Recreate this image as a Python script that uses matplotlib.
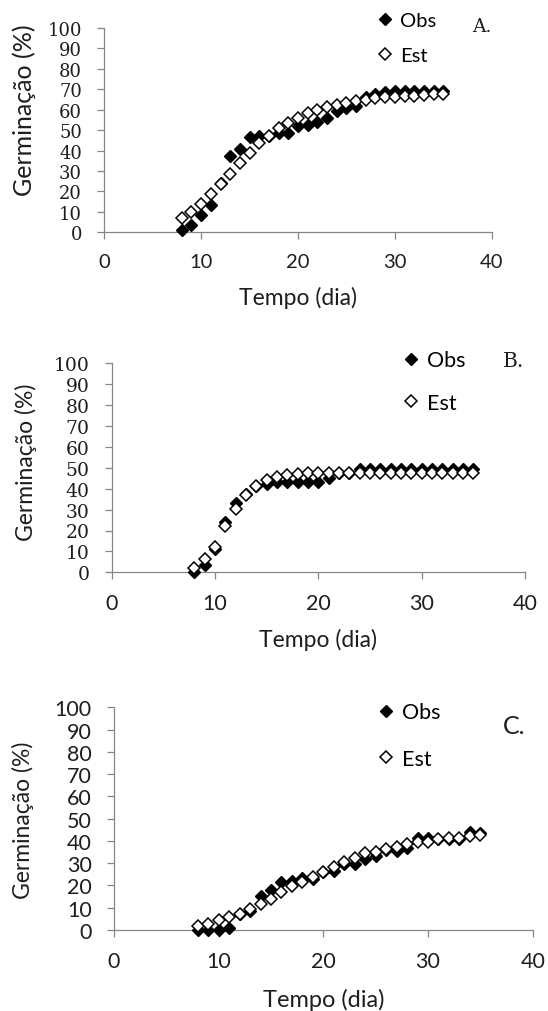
import matplotlib
matplotlib.use('Agg')
import matplotlib.pyplot as plt

# dias de avaliação
days = list(range(8, 36))

# A.
obs_a = [1.2, 3.6, 8.5, 13.6, 24, 37.4, 41, 46.6, 47, 47.2, 48.5, 48.7, 52, 52.5,
         53.8, 56, 59.5, 60.7, 62, 66.3, 67.5, 68.8, 69, 69, 69, 69, 69, 69]
est_a = [7, 9.8, 14, 18.7, 23.5, 28.7, 34.1, 39, 43.5, 47, 51, 53.5, 56, 58.2,
         60, 61.5, 62.3, 63.3, 64.3, 65, 65.5, 66, 66.3, 66.6, 66.9, 67.2, 67.5, 67.8]

# B.
obs_b = [0, 3.5, 11, 24, 33, 37.5, 41.5, 42.3, 43.3, 43.3, 43.3, 43.3, 43.3, 45,
         47.5, 47.5, 49.3, 49.3, 49.3, 49.3, 49.3, 49.3, 49.3, 49.3, 49.3, 49.3, 49.3, 49.3]
est_b = [2.2, 6.5, 12, 22, 30.3, 37, 41.3, 44.3, 45.5, 46.5, 47, 47.3, 47.4, 47.5,
         47.6, 47.6, 47.6, 47.6, 47.6, 47.6, 47.6, 47.6, 47.6, 47.6, 47.6, 47.6, 47.6, 47.6]

# C.
obs_c = [0, 0, 0, 0.8, 7, 8.5, 15.3, 18, 21.6, 22, 23.5, 23, 26, 26.5,
         29.8, 29.5, 32, 33.3, 36, 35.5, 37, 41.5, 41.5, 41, 41, 41, 44, 43.5]
est_c = [1.8, 2.8, 4.5, 6, 7.3, 9.3, 11.5, 14, 17, 19.8, 21.7, 24, 26, 28.5,
         30.6, 32.5, 34.5, 35, 36.3, 37.3, 38.5, 39.3, 39.7, 40.8, 41.2, 41.5, 42.3, 42.7]

x_ticks = [0, 10, 20, 30, 40]
y_ticks = list(range(0, 101, 10))
series_names = ['Obs', 'Est']
panel_tags = ['A.', 'B.', 'C.']
x_title = 'Tempo (dia)'
y_title = 'Germinação (%)'

W, H = 548, 1012
SANS = ['Lato', 'DejaVu Sans']
SERIF = ['DejaVu Serif']
GRAY = '#868686'
INK = '#1e1e1e'


def fx(x):
    return x / W


def fy(y):
    return 1 - y / H


# layout em pixels de cada painel
PANELS = [
    dict(obs=obs_a, est=est_a, box=(104.3, 29, 491.7, 233.3),
         yfont=SERIF, yfs=13, xfs=14.5, ylab=(24, 110), ylab_fs=18,
         xlab_y=298, xlab_fs=16.5, leg=(385, 21.7, 56.7), leg_fs=14.5,
         tag=(482, 27), tag_font=SERIF, tag_fs=13.5),
    dict(obs=obs_b, est=est_b, box=(111.7, 364.3, 525, 573.3),
         yfont=SERIF, yfs=13.5, xfs=15.5, ylab=(26, 462), ylab_fs=16.5,
         xlab_y=640, xlab_fs=16.5, leg=(411, 362, 403), leg_fs=15.5,
         tag=(514, 362), tag_font=SERIF, tag_fs=14.5),
    dict(obs=obs_c, est=est_c, box=(114, 708.3, 532.7, 931),
         yfont=SANS, yfs=15.5, xfs=15.5, ylab=(23, 820), ylab_fs=16.5,
         xlab_y=1000, xlab_fs=17, leg=(386, 714, 759), leg_fs=15.5,
         tag=(514, 727), tag_font=SANS, tag_fs=18),
]


def draw_panel(fig, p, tag):
    x0, y0, x1, y1 = p['box']
    ax = fig.add_axes([fx(x0), fy(y1), fx(x1) - fx(x0), (y1 - y0) / H])
    ax.plot(days, p['obs'], linestyle='none', marker='D', ms=6.2,
            mfc='black', mec='black', mew=1.0, clip_on=False, zorder=3,
            label=series_names[0])
    ax.plot(days, p['est'], linestyle='none', marker='D', ms=6.2,
            mfc='white', mec='black', mew=1.1, clip_on=False, zorder=4,
            label=series_names[1])
    ax.set_xlim(0, 40)
    ax.set_ylim(0, 100)
    ax.set_xticks(x_ticks)
    ax.set_yticks(y_ticks)
    for s in ['top', 'right']:
        ax.spines[s].set_visible(False)
    for s in ['left', 'bottom']:
        ax.spines[s].set_color(GRAY)
        ax.spines[s].set_linewidth(0.9)
    ax.tick_params(axis='both', direction='out', length=5, width=0.9,
                   color=GRAY, labelcolor=INK)
    ax.tick_params(axis='y', pad=11)
    ax.tick_params(axis='x', pad=10)
    for lb in ax.get_yticklabels():
        lb.set_fontfamily(p['yfont'])
        lb.set_fontsize(p['yfs'])
    for lb in ax.get_xticklabels():
        lb.set_fontfamily(SANS)
        lb.set_fontsize(p['xfs'])

    # títulos dos eixos
    fig.text(fx(p['ylab'][0]), fy(p['ylab'][1]), y_title, rotation=90,
             ha='center', va='center', fontsize=p['ylab_fs'],
             family=SANS, color=INK)
    fig.text(fx((x0 + x1) / 2), fy(p['xlab_y']), x_title,
             ha='center', va='center', fontsize=p['xlab_fs'],
             family=SANS, color=INK)

    # legenda
    lx, ly1, ly2 = p['leg']
    fs_px = p['leg_fs'] * 100 / 72
    spacing = (ly2 - ly1 - 0.85 * fs_px) / fs_px
    ax.legend(loc='center left', bbox_to_anchor=(fx(lx - 0.5 * fs_px), fy((ly1 + ly2) / 2)),
              bbox_transform=fig.transFigure, frameon=False, borderpad=0,
              borderaxespad=0, handlelength=1.0, handletextpad=0.25,
              labelspacing=spacing, numpoints=1, markerscale=0.95,
              prop={'family': SANS, 'size': p['leg_fs']})

    fig.text(fx(p['tag'][0]), fy(p['tag'][1]), tag, ha='center', va='center',
             fontsize=p['tag_fs'], family=p['tag_font'], color=INK)
    return ax


fig = plt.figure(figsize=(W / 100, H / 100), dpi=100)
fig.patch.set_facecolor('white')
for p, tag in zip(PANELS, panel_tags):
    draw_panel(fig, p, tag)

fig.savefig('out.png', dpi=100, facecolor='white')
